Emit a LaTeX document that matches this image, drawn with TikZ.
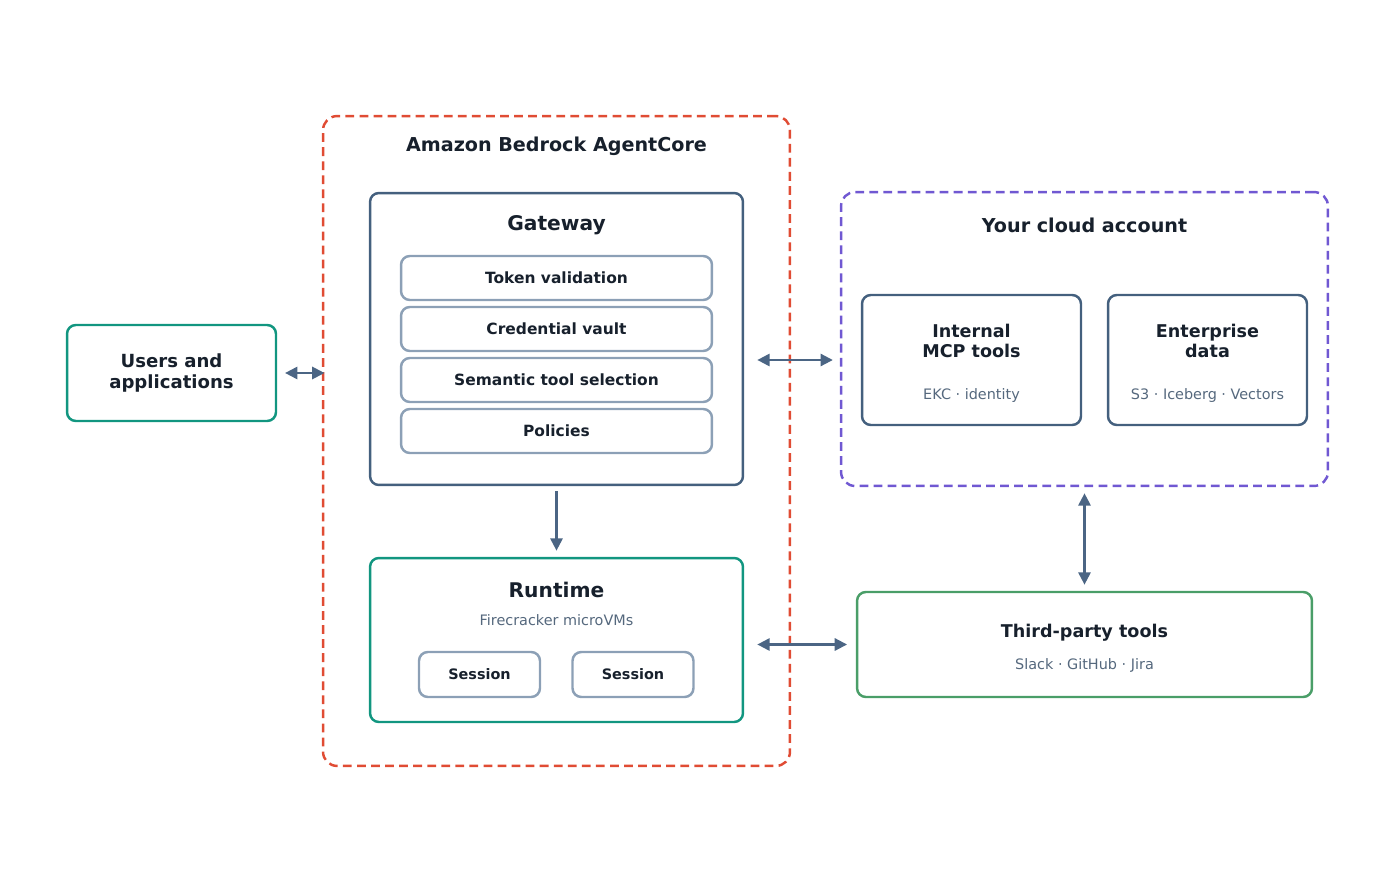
\documentclass[tikz,border=0pt]{standalone}
\usepackage{fontspec}
\setmainfont{DejaVu Sans}
\definecolor{acred}{RGB}{224,76,52}
\definecolor{acpurple}{RGB}{112,88,210}
\definecolor{acslate}{RGB}{68,96,126}
\definecolor{acgrey}{RGB}{140,160,182}
\definecolor{acteal}{RGB}{18,150,128}
\definecolor{acgreen}{RGB}{74,158,104}
\definecolor{actext}{RGB}{23,32,44}
\definecolor{acsub}{RGB}{85,104,125}
\definecolor{acarrow}{RGB}{75,101,132}
\usetikzlibrary{arrows.meta,positioning}

\begin{document}
\begin{tikzpicture}[
  x=0.02cm, y=-0.02cm,
  every node/.style={text=actext,inner sep=0pt},
  zone/.style={draw=#1,line width=1.4pt,dash pattern=on 5pt off 3pt,rounded corners=8pt},
  block/.style={draw=#1,line width=1.4pt,rounded corners=5pt},
  itembox/.style={draw=acgrey,line width=1.4pt,rounded corners=5pt,minimum width=6.22cm,
                  minimum height=0.88cm,font=\fontsize{8.8}{10}\selectfont\bfseries},
  sessbox/.style={draw=acgrey,line width=1.4pt,rounded corners=5pt,minimum width=2.42cm,
                  minimum height=0.9cm,font=\fontsize{8.2}{10}\selectfont\bfseries},
  ztitle/.style={font=\fontsize{10.9}{13}\selectfont\bfseries},
  btitle/.style={font=\fontsize{11.5}{14}\selectfont\bfseries},
  ntitle/.style={font=\fontsize{10}{11.6}\selectfont\bfseries,align=center},
  subtxt/.style={font=\fontsize{8.2}{10}\selectfont,text=acsub},
  link/.style={draw=acarrow,line width=1.2pt,{Triangle[length=7pt,width=7pt]}-{Triangle[length=7pt,width=7pt]}},
]
  \useasboundingbox (0,0) rectangle (1400,882);

  % AgentCore
  \node[zone=acred,minimum width=9.34cm,minimum height=13cm] (core) at (556.5,441) {};
  \node[ztitle] (coret) at (556.5,146) {Amazon Bedrock AgentCore};

  % Gateway
  \node[block=acslate,minimum width=7.46cm,minimum height=5.84cm] (gw) at (556.5,339) {};
  \node[btitle] (gwt) at (556.5,225) {Gateway};
  \node[itembox] (tok) at (556.5,278) {Token validation};
  \node[itembox] (cred) at (556.5,329) {Credential vault};
  \node[itembox] (sem) at (556.5,380) {Semantic tool selection};
  \node[itembox] (pol) at (556.5,431) {Policies};

  % Runtime
  \node[block=acteal,minimum width=7.46cm,minimum height=3.28cm] (rt) at (556.5,640) {};
  \node[btitle] (rtt) at (556.5,590) {Runtime};
  \node[subtxt] (rts) at (556.5,620) {Firecracker microVMs};
  \node[sessbox] (s1) at (479.5,674.5) {Session};
  \node[sessbox] (s2) at (633,674.5) {Session};

  % Users
  \node[block=acteal,minimum width=4.18cm,minimum height=1.92cm,ntitle,
        font=\fontsize{10.3}{12}\selectfont\bfseries] (users) at (171.5,373) {Users and\\applications};

  % Cloud account
  \node[zone=acpurple,minimum width=9.74cm,minimum height=5.88cm] (cloud) at (1084.5,339) {};
  \node[ztitle] (cloudt) at (1084.5,225) {Your cloud account};
  \node[block=acslate,minimum width=4.38cm,minimum height=2.6cm] (mcp) at (971.5,360) {};
  \node[ntitle] (mcpt) at (971.5,341) {Internal\\MCP tools};
  \node[subtxt] (mcps) at (971.5,396) {EKC · identity};
  \node[block=acslate,minimum width=3.98cm,minimum height=2.6cm] (ent) at (1207.5,360) {};
  \node[ntitle] (entt) at (1207.5,341) {Enterprise\\data};
  \node[subtxt] (ents) at (1207.5,396) {S3 · Iceberg · Vectors};

  % Third-party
  \node[block=acgreen,minimum width=9.1cm,minimum height=2.1cm] (third) at (1084.5,644.5) {};
  \node[ntitle] (thirdt) at (1084.5,633) {Third-party tools};
  \node[subtxt] (thirds) at (1084.5,665) {Slack · GitHub · Jira};

  % Connectors
  \draw[link,shorten <=4.5pt,shorten >=-1.5pt] (users.east) -- (core.west |- users.east);
  \draw[link,shorten <=7.5pt,shorten >=4pt] (gw.east |- mcp.west) -- (cloud.west |- mcp.west);
  \draw[draw=acarrow,line width=1.2pt,-{Triangle[length=7pt,width=7pt]},shorten <=2.8pt,shorten >=3.5pt] (gw) -- (rt);
  \draw[link,shorten <=7.5pt,shorten >=5pt] (rt.east |- third.west) -- (third.west);
  \draw[link,shorten <=3.5pt,shorten >=3.5pt] (cloud) -- (third);
\end{tikzpicture}
\end{document}
